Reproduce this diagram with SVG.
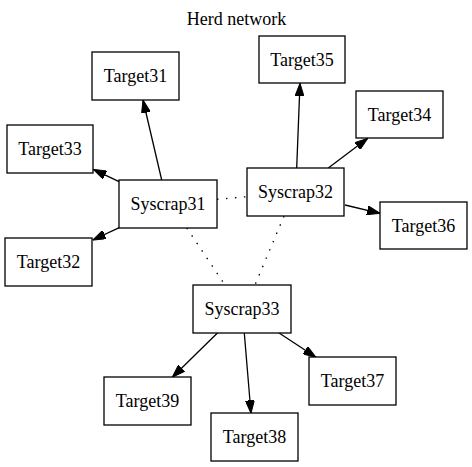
<svg xmlns="http://www.w3.org/2000/svg" width="472" height="467" viewBox="0 0 472 467">
<style>
  .node rect { fill: #ffffff; stroke: #000000; stroke-width: 1.3; }
  .node text, .title { font-family: "Liberation Serif", "Times New Roman", serif; font-size: 18px; fill: #000000; text-anchor: middle; }
  .edge { stroke: #000000; stroke-width: 1.3; fill: none; }
  .arrow { marker-end: url(#ah); }
  .dotted { stroke-dasharray: 1.5 7.5; }
</style>
<defs>
  <marker id="ah" viewBox="0 0 13 9" refX="13" refY="4.5" markerWidth="13" markerHeight="9" orient="auto" markerUnits="userSpaceOnUse">
    <path d="M0,0 L13,4.5 L0,9 z" fill="#000000" stroke="#000000" stroke-width="1"/>
  </marker>
</defs>
<rect x="0" y="0" width="472" height="467" fill="#ffffff"/>
<text class="title" x="236.5" y="25">Herd network</text>
<g id="connectors">
  <line class="edge arrow" x1="161.7" y1="180" x2="143" y2="100"/>
  <line class="edge arrow" x1="119" y1="181.7" x2="93.3" y2="169.3"/>
  <line class="edge arrow" x1="119.3" y1="227.7" x2="92.7" y2="240"/>
  <line class="edge arrow" x1="296.7" y1="168" x2="300" y2="83.3"/>
  <line class="edge arrow" x1="328.3" y1="168" x2="367.7" y2="138.3"/>
  <line class="edge arrow" x1="345" y1="205" x2="380" y2="213.3"/>
  <line class="edge arrow" x1="217.7" y1="332.7" x2="172.3" y2="377.3"/>
  <line class="edge arrow" x1="244.3" y1="333" x2="251" y2="413.3"/>
  <line class="edge arrow" x1="278.7" y1="332.7" x2="316" y2="357.3"/>
  <line class="edge dotted" x1="217" y1="199.3" x2="247" y2="196.7"/>
  <line class="edge dotted" x1="186.7" y1="228" x2="225" y2="285"/>
  <line class="edge dotted" x1="284" y1="216" x2="255" y2="285"/>
</g>
<g id="Target31" class="node"><rect x="92" y="52" width="87" height="48"/><text x="135.5" y="82">Target31</text></g>
<g id="Target33" class="node"><rect x="7" y="125" width="86" height="48"/><text x="50" y="155">Target33</text></g>
<g id="Syscrap31" class="node"><rect x="119" y="180" width="98" height="48"/><text x="168" y="210">Syscrap31</text></g>
<g id="Target32" class="node"><rect x="5" y="238" width="87" height="48"/><text x="48.5" y="268">Target32</text></g>
<g id="Target35" class="node"><rect x="259" y="36" width="86" height="47"/><text x="302" y="65.5">Target35</text></g>
<g id="Target34" class="node"><rect x="356" y="91" width="87" height="47"/><text x="399.5" y="120.5">Target34</text></g>
<g id="Syscrap32" class="node"><rect x="247" y="168" width="97" height="48"/><text x="295.5" y="198">Syscrap32</text></g>
<g id="Target36" class="node"><rect x="380" y="202" width="87" height="47"/><text x="423.5" y="231.5">Target36</text></g>
<g id="Syscrap33" class="node"><rect x="193" y="285" width="98" height="48"/><text x="242" y="315">Syscrap33</text></g>
<g id="Target39" class="node"><rect x="104" y="377" width="87" height="48"/><text x="147.5" y="407">Target39</text></g>
<g id="Target38" class="node"><rect x="211" y="413" width="87" height="48"/><text x="254.5" y="443">Target38</text></g>
<g id="Target37" class="node"><rect x="309" y="357" width="87" height="48"/><text x="352.5" y="387">Target37</text></g>
</svg>
